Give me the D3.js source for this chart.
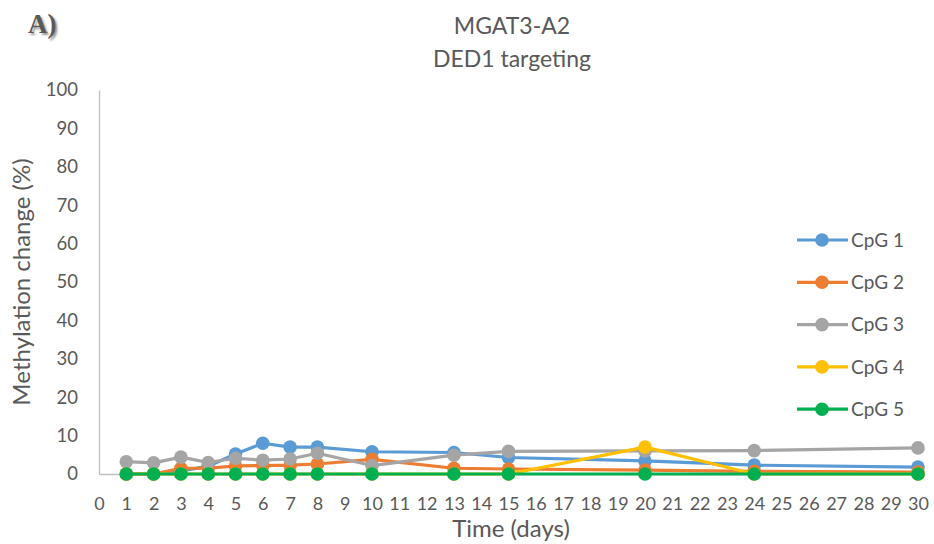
<!DOCTYPE html>
<html><head><meta charset="utf-8">
<script src="https://cdn.jsdelivr.net/npm/d3@7"></script>
<style>body{margin:0;background:#fff}svg{display:block}text{font-family:Lato,"Open Sans",sans-serif;fill:#595959}</style>
</head><body><svg id="c" width="934" height="544"></svg>
<script>
const days = [1,2,3,4,5,6,7,8,10,13,15,20,24,30];
const seriesNames = ["CpG 1","CpG 2","CpG 3","CpG 4","CpG 5"];
const cpg1 = [0,0,0.8,2,5.2,8,7,7,5.8,5.6,4.3,3.4,2.3,1.8];
const cpg2 = [0,0,1.5,1.5,2.1,2.2,2.3,2.6,3.8,1.5,1.3,1,0.7,0.5];
const cpg3 = [3.2,2.9,4.4,3,4.1,3.6,3.9,5.4,2.2,4.9,5.9,6,6.1,6.8];
const cpg4 = [0,0,0,0,0,0,0,0,0,0,0,7,0,0];
const cpg5 = [0,0,0,0,0,0,0,0,0,0,0,0,0,0];
const xTicks = d3.range(0,31);
const yTicks = d3.range(0,101,10);
const colors = ["#5b9bd5","#ed7d31","#a5a5a5","#ffc000","#00b050"];
const allSeries = [cpg1,cpg2,cpg3,cpg4,cpg5];

const svg = d3.select("#c");
const x = d3.scaleLinear().domain([0,30]).range([99,918]);
const y = d3.scaleLinear().domain([0,100]).range([474,90]);

// axes
const yAxis = svg.append("g").attr("transform","translate(99,0)")
  .call(d3.axisLeft(y).tickValues(yTicks).tickSize(0).tickPadding(21));
yAxis.select(".domain").attr("stroke","#bfbfbf").attr("stroke-width",1.3);
yAxis.selectAll("text").style("font-size","18.5px").attr("fill","#595959");

const xAxis = svg.append("g").attr("transform","translate(0,474)")
  .call(d3.axisBottom(x).tickValues(xTicks).tickSize(0).tickPadding(23));
xAxis.select(".domain").attr("stroke","#bfbfbf").attr("stroke-width",1.3);
xAxis.selectAll("text").style("font-size","18px").attr("fill","#595959");

// lines
const line = d3.line().x((d,i)=>x(days[i])).y(d=>y(d));
allSeries.forEach((s,k)=>{
  const g = svg.append("g");
  g.append("path").datum(s).attr("d",line).attr("fill","none")
    .attr("stroke",colors[k]).attr("stroke-width",3.2).attr("stroke-linejoin","round");
  g.selectAll("circle").data(s).join("circle")
    .attr("cx",(d,i)=>x(days[i])).attr("cy",d=>y(d)).attr("r",6.8).attr("fill",colors[k]);
});

// legend
const lg = svg.append("g");
seriesNames.forEach((n,k)=>{
  const yy = 240 + k*42.3;
  lg.append("line").attr("x1",797).attr("x2",848).attr("y1",yy).attr("y2",yy)
    .attr("stroke",colors[k]).attr("stroke-width",3.2);
  lg.append("circle").attr("cx",822).attr("cy",yy).attr("r",6.8).attr("fill",colors[k]);
  lg.append("text").attr("x",851).attr("y",yy).attr("dy","0.35em").style("font-size","19px").text(n);
});

// titles
svg.append("text").attr("x",512).attr("y",34).attr("text-anchor","middle").style("font-size","23px").text("MGAT3-A2");
svg.append("text").attr("x",512).attr("y",67).attr("text-anchor","middle").style("font-size","23px").text("DED1 targeting");
svg.append("text").attr("x",511).attr("y",537).attr("text-anchor","middle").style("font-size","24px").text("Time (days)");
svg.append("text").attr("transform","translate(30,282) rotate(-90)").attr("text-anchor","middle").style("font-size","24px").text("Methylation change (%)");
svg.append("text").attr("x",28).attr("y",33).style("font-family","'Liberation Serif',serif").style("font-size","27px").style("font-weight","bold").attr("fill","#111")
  .style("text-shadow","2px 2px 2px #999").text("A)");
</script></body></html>
